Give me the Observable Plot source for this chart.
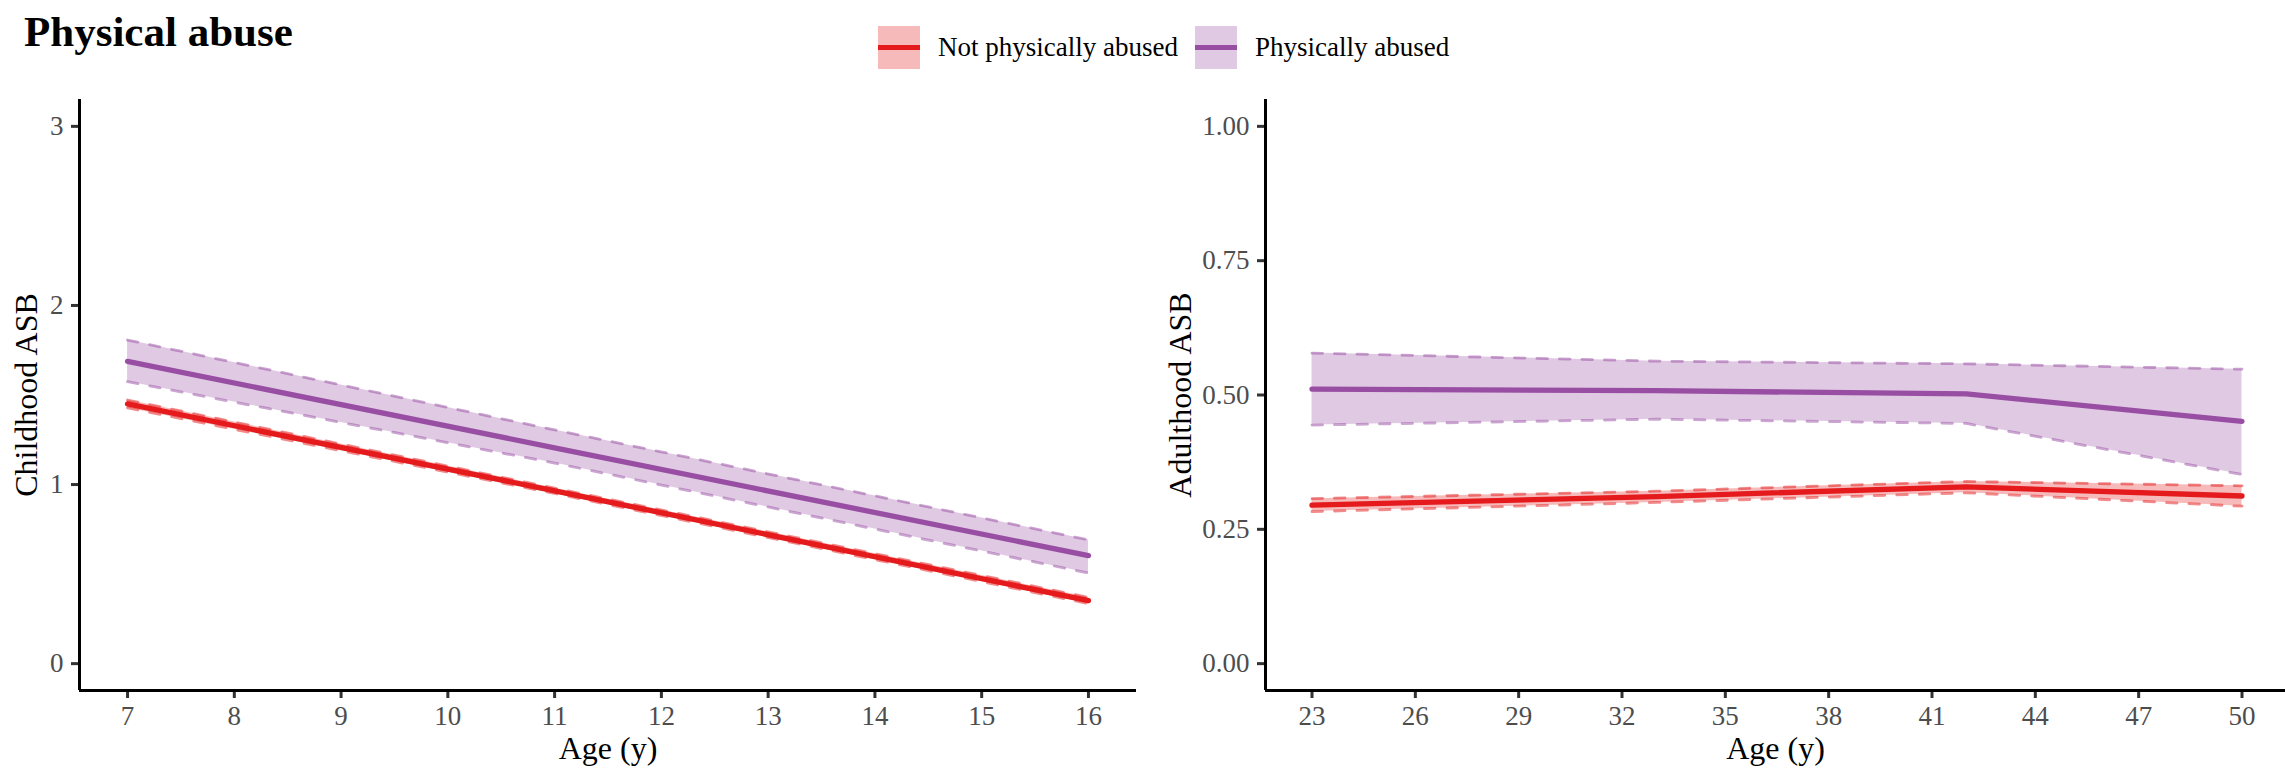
<!DOCTYPE html>
<html>
<head>
<meta charset="utf-8">
<script src="https://cdn.jsdelivr.net/npm/d3@7"></script>
<script src="https://cdn.jsdelivr.net/npm/@observablehq/plot@0.6"></script>
<style>
  body { margin: 0; background: #fff; font-family: "Liberation Serif", serif; }
  #page { position: relative; width: 2285px; height: 772px; overflow: hidden; background: #fff; }
  #title { position: absolute; left: 24px; top: 10px; font-size: 43px; line-height: 43px; font-weight: bold; color: #000; white-space: nowrap; }
  #legend { position: absolute; left: 878px; top: 26px; display: flex; align-items: center; height: 43px; }
  .key { position: relative; width: 42px; height: 43px; }
  .key .ln { position: absolute; left: 0; right: 0; top: 19px; height: 5px; }
  .lab { font-size: 27px; line-height: 43px; margin-left: 18px; margin-right: 17px; color: #000; white-space: nowrap; }
  .panel { position: absolute; top: 80px; }
</style>
</head>
<body>
<div id="page">
  <div id="title"></div>
  <div id="legend"></div>
</div>
<script>
// ---- Data ----
const titleText = "Physical abuse";
const seriesNames = ["Not physically abused", "Physically abused"];
const seriesColors = ["#E41A1C", "#984EA3"];
const seriesFills = ["#F7BABB", "#E0CAE3"];

// Childhood panel
const childAges = [7, 11, 16];
const childNotEst = [1.450, 0.965, 0.352];
const childNotLo  = [1.428, 0.950, 0.335];
const childNotHi  = [1.472, 0.980, 0.370];
const childAbEst  = [1.688, 1.205, 0.603];
const childAbLo   = [1.574, 1.120, 0.506];
const childAbHi   = [1.807, 1.305, 0.691];
const childXTicks = [7, 8, 9, 10, 11, 12, 13, 14, 15, 16];
const childYTicks = [0, 1, 2, 3];
const childYLabel = "Childhood ASB";

// Adulthood panel
const adultAges = [23, 33, 42, 50];
const adultNotEst = [0.295, 0.311, 0.329, 0.312];
const adultNotLo  = [0.283, 0.300, 0.318, 0.293];
const adultNotHi  = [0.307, 0.321, 0.339, 0.331];
const adultAbEst  = [0.511, 0.508, 0.502, 0.451];
const adultAbLo   = [0.444, 0.455, 0.447, 0.352];
const adultAbHi   = [0.578, 0.563, 0.558, 0.548];
const adultXTicks = [23, 26, 29, 32, 35, 38, 41, 44, 47, 50];
const adultYTicks = [0, 0.25, 0.5, 0.75, 1];
const adultYLabel = "Adulthood ASB";

const xLabel = "Age (y)";

// ---- Header ----
document.getElementById("title").textContent = titleText;
const legend = d3.select("#legend");
seriesNames.forEach((name, k) => {
  const key = legend.append("div").attr("class", "key").style("background", seriesFills[k]);
  key.append("div").attr("class", "ln").style("background", seriesColors[k]);
  legend.append("div").attr("class", "lab").text(name);
});

// ---- Panels ----
function buildRows(ages, est, lo, hi) {
  const rows = [];
  seriesNames.forEach((name, k) => {
    ages.forEach((a, i) => rows.push({ age: a, group: name, est: est[k][i], lo: lo[k][i], hi: hi[k][i] }));
  });
  return rows;
}

function panel(cfg) {
  const rows = buildRows(cfg.ages, cfg.est, cfg.lo, cfg.hi);
  const dash = "10.5,12";
  return Plot.plot({
    width: cfg.width,
    height: 692,
    marginTop: 19,
    marginBottom: 82,
    marginLeft: cfg.marginLeft,
    marginRight: cfg.marginRight,
    x: { domain: cfg.xDomain, range: cfg.xRange },
    y: { domain: cfg.yDomain },
    color: { domain: seriesNames, range: seriesColors },
    style: { fontFamily: "Liberation Serif", background: "white", overflow: "visible" },
    marks: [
      Plot.areaY(rows, { x: "age", y1: "lo", y2: "hi", z: "group", fill: "group", fillOpacity: 0.3 }),
      Plot.line(rows, { x: "age", y: "lo", z: "group", stroke: "group", strokeOpacity: 0.5, strokeWidth: 2.8, strokeDasharray: dash }),
      Plot.line(rows, { x: "age", y: "hi", z: "group", stroke: "group", strokeOpacity: 0.5, strokeWidth: 2.8, strokeDasharray: dash }),
      Plot.line(rows, { x: "age", y: "est", z: "group", stroke: "group", strokeWidth: 5.3 }),
      Plot.axisX({ ticks: cfg.xTicks, tickFormat: d3.format("d"), tickSize: 8, tickPadding: 7, fontSize: 27,
        stroke: "#333", strokeWidth: 3, fill: "#4D4D4D", label: null }),
      Plot.axisY({ ticks: cfg.yTicks, tickFormat: cfg.yFormat, tickSize: 8, tickPadding: 8, fontSize: 27,
        stroke: "#333", strokeWidth: 3, fill: "#4D4D4D", label: null }),
      Plot.ruleY([cfg.yDomain[0]], { stroke: "black", strokeWidth: 3 }),
      Plot.ruleX([cfg.xDomain[0]], { stroke: "black", strokeWidth: 3 }),
      Plot.text([xLabel], { frameAnchor: "bottom", dy: 68, lineAnchor: "bottom", textAnchor: "middle", fontSize: 32, fill: "black" }),
      Plot.text([cfg.yLabel], { frameAnchor: "left", dx: cfg.yLabelDx, rotate: -90, lineAnchor: "middle", textAnchor: "middle", fontSize: 32, fill: "black" })
    ]
  });
}

const left = panel({
  ages: childAges,
  est: [childNotEst, childAbEst], lo: [childNotLo, childAbLo], hi: [childNotHi, childAbHi],
  width: 1150, marginLeft: 79, marginRight: 14,
  xDomain: [6.55, 16.45], xRange: [79, 1136],
  yDomain: [-0.15, 3.15], xTicks: childXTicks, yTicks: childYTicks, yFormat: d3.format("d"),
  yLabel: childYLabel, yLabelDx: -53
});
left.classList.add("panel");
left.style.left = "0px";

const right = panel({
  ages: adultAges,
  est: [adultNotEst, adultAbEst], lo: [adultNotLo, adultAbLo], hi: [adultNotHi, adultAbHi],
  width: 1135, marginLeft: 115, marginRight: 0,
  xDomain: [21.65, 51.35], xRange: [115, 1138],
  yDomain: [-0.05, 1.05], xTicks: adultXTicks, yTicks: adultYTicks, yFormat: d3.format(".2f"),
  yLabel: adultYLabel, yLabelDx: -85
});
right.classList.add("panel");
right.style.left = "1150px";

document.getElementById("page").append(left, right);
</script>
</body>
</html>
